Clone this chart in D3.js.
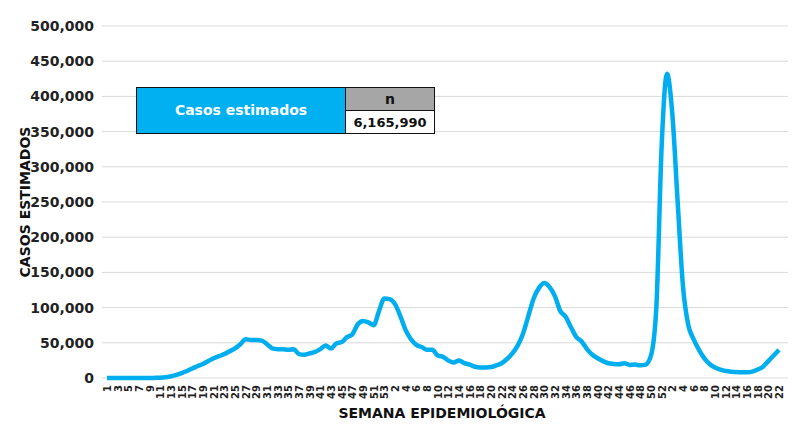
<!DOCTYPE html>
<html>
<head>
<meta charset="utf-8">
<script src="https://cdn.jsdelivr.net/npm/d3@7"></script>
<style>
  body { margin: 0; background: #fff; }
  svg { display: block; font-family: "DejaVu Sans", sans-serif; font-weight: bold; }
</style>
</head>
<body>
<div class="chart"></div>
<script>
// weekly estimated cases, by epidemiological year
const cases2020 = [
  0, 0, 0, 0, 0, 0, 0, 0, 0, 200, 500,
  1000, 2500, 4500, 7000, 10000, 13500, 17000, 20000, 24000,
  28000, 31000, 34000, 38000, 42000, 48000, 55000, 54000, 54000, 53000,
  48000, 42000, 41000, 41000, 40000, 41000, 34000, 33000, 35000, 37000,
  41000, 46000, 42000, 49000, 51000, 58000, 62000, 76000, 81000, 79000,
  75000, 95000, 113000
];
const cases2021 = [
  112000, 105000, 88000, 68000, 55000, 47000, 44000, 40000, 40000, 32000,
  30000, 25000, 22000, 25000, 21000, 19000, 16000, 15000, 15000, 15500,
  18000, 21000, 27000, 35000, 46000, 63000, 88000, 113000, 128000, 135000,
  129000, 116000, 95000, 87000, 72000, 58000, 52000, 41000, 33000, 28000,
  24000, 21000, 20000, 19500, 21000, 18500, 19000, 18000, 19000, 32000,
  100000, 330000
];
const cases2022 = [
  432000, 375000, 250000, 130000, 75000, 55000, 40000, 28000, 20000, 15000,
  12000, 10000, 9000, 8500, 8000, 8000, 9000, 12000, 16000, 24000,
  32000, 40000
];
const years = [2020, 2021, 2022];
const yTicks = [0, 50000, 100000, 150000, 200000, 250000, 300000, 350000, 400000, 450000, 500000];
const tableLabel = "Casos estimados";
const tableHeader = "n";
const tableTotal = "6,165,990";

const data = [];
[cases2020, cases2021, cases2022].forEach(function (arr, k) {
  arr.forEach(function (v, j) {
    data.push({ key: years[k] + "-" + (j + 1), week: j + 1, cases: v });
  });
});

const width = 800;
const height = 440;
const margin = { top: 26, right: 21, bottom: 62, left: 107 };

const svg = d3
  .select(".chart")
  .append("svg")
  .attr("width", width)
  .attr("height", height);

const xScale = d3
  .scalePoint()
  .domain(data.map((d) => d.key))
  .range([margin.left, width - margin.right]);

const yScale = d3
  .scaleLinear()
  .domain([0, 500000])
  .range([height - margin.bottom, margin.top]);

// gridlines
svg
  .append("g")
  .selectAll("line")
  .data(yTicks)
  .enter()
  .append("line")
  .attr("x1", margin.left - 5)
  .attr("x2", width - 12)
  .attr("y1", (d) => yScale(d))
  .attr("y2", (d) => yScale(d))
  .attr("stroke", "#d9d9d9")
  .attr("stroke-width", 1);

// y axis labels
const yAxis = svg
  .append("g")
  .attr("transform", "translate(" + (margin.left - 13) + ",0)")
  .call(d3.axisLeft(yScale).tickValues(yTicks).tickSize(0).tickFormat(d3.format(",")));
yAxis.select(".domain").remove();
yAxis
  .selectAll("text")
  .attr("x", 0)
  .style("font-family", "DejaVu Sans")
  .style("font-weight", "bold")
  .style("font-size", "14px")
  .attr("fill", "#222");

// x axis labels (every other week)
const xAxis = svg
  .append("g")
  .attr("transform", "translate(0," + (height - margin.bottom) + ")")
  .call(
    d3
      .axisBottom(xScale)
      .tickValues(data.filter((d, i) => i % 2 === 0).map((d) => d.key))
      .tickSize(0)
      .tickFormat((k) => k.split("-")[1])
  );
xAxis.select(".domain").remove();
xAxis
  .selectAll("text")
  .attr("transform", "rotate(-90)")
  .attr("text-anchor", "end")
  .attr("x", -7)
  .attr("y", 0)
  .attr("dy", "0.35em")
  .style("font-family", "DejaVu Sans")
  .style("font-weight", "bold")
  .style("font-size", "10px")
  .attr("fill", "#222");

// line
const line = d3
  .line()
  .x((d) => xScale(d.key))
  .y((d) => yScale(d.cases))
  .curve(d3.curveMonotoneX);

svg
  .append("path")
  .datum(data)
  .attr("d", line)
  .attr("fill", "none")
  .attr("stroke", "#00aeef")
  .attr("stroke-width", 4.5)
  .attr("stroke-linejoin", "round");

// axis titles
svg
  .append("text")
  .attr("x", 442)
  .attr("y", 418)
  .attr("text-anchor", "middle")
  .style("font-size", "14px")
  .attr("fill", "#111")
  .text("SEMANA EPIDEMIOLÓGICA");

svg
  .append("text")
  .attr("transform", "rotate(-90)")
  .attr("x", -202)
  .attr("y", 30)
  .attr("text-anchor", "middle")
  .style("font-size", "14px")
  .attr("fill", "#111")
  .text("CASOS ESTIMADOS");

// summary table
const table = svg.append("g");
table
  .append("rect")
  .attr("x", 136.5)
  .attr("y", 87.5)
  .attr("width", 209)
  .attr("height", 46)
  .attr("fill", "#00b0f0")
  .attr("stroke", "#111")
  .attr("stroke-width", 1);
table
  .append("rect")
  .attr("x", 345.5)
  .attr("y", 87.5)
  .attr("width", 89)
  .attr("height", 23)
  .attr("fill", "#a6a6a6")
  .attr("stroke", "#111")
  .attr("stroke-width", 1);
table
  .append("rect")
  .attr("x", 345.5)
  .attr("y", 110.5)
  .attr("width", 89)
  .attr("height", 23)
  .attr("fill", "#fff")
  .attr("stroke", "#111")
  .attr("stroke-width", 1);
table
  .append("text")
  .attr("x", 241)
  .attr("y", 115)
  .attr("text-anchor", "middle")
  .style("font-size", "14px")
  .attr("fill", "#fff")
  .text(tableLabel);
table
  .append("text")
  .attr("x", 390)
  .attr("y", 104)
  .attr("text-anchor", "middle")
  .style("font-size", "14px")
  .attr("fill", "#111")
  .text(tableHeader);
table
  .append("text")
  .attr("x", 390)
  .attr("y", 127)
  .attr("text-anchor", "middle")
  .style("font-size", "13px")
  .attr("fill", "#111")
  .text(tableTotal);
</script>
</body>
</html>
